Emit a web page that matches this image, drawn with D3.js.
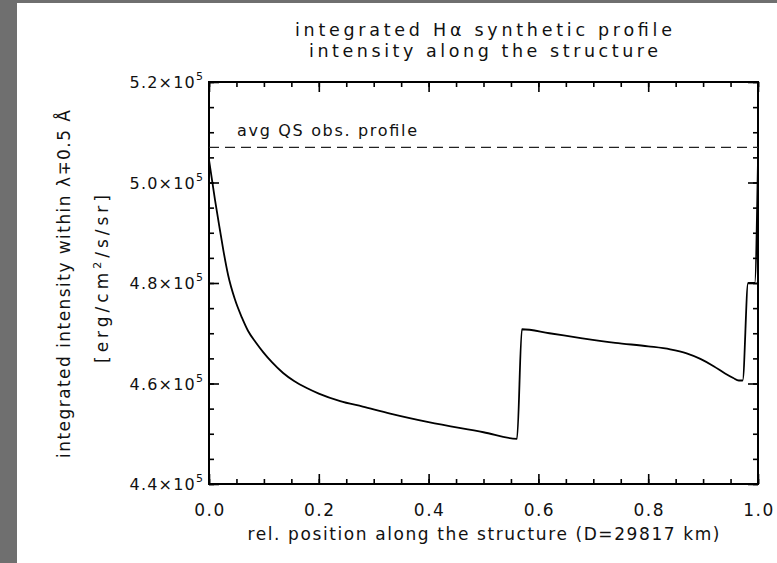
<!DOCTYPE html>
<html><head><meta charset="utf-8">
<script src="https://cdn.jsdelivr.net/npm/d3@7"></script>
<style>
body{margin:0;background:#fff;}
svg{display:block;}
text{font-family:"DejaVu Sans",sans-serif;fill:#111;}
</style>
</head><body>
<svg id="chart" width="777" height="563"></svg>
<script>
// ---- data ----
const positions = [0, 0.011, 0.02, 0.026, 0.035, 0.047, 0.06, 0.071, 0.085, 0.099, 0.115, 0.135, 0.155, 0.178, 0.2, 0.239, 0.28, 0.33, 0.4, 0.5, 0.561,
  0.570, 0.62, 0.68, 0.74, 0.8, 0.84, 0.87, 0.895, 0.92, 0.94, 0.955, 0.965, 0.972, 0.982, 0.994, 1.0];
const intensities = [5.045, 4.965, 4.905, 4.866, 4.815, 4.768, 4.731, 4.705, 4.682, 4.662, 4.642, 4.621, 4.605, 4.591, 4.580, 4.565, 4.554, 4.540, 4.523, 4.503, 4.490,
  4.708, 4.700, 4.690, 4.681, 4.674, 4.668, 4.660, 4.649, 4.634, 4.620, 4.611, 4.606, 4.606, 4.80, 4.80, 5.045].map(v => v * 1e5);
const qsLevel = 5.07e5;
const qsLabel = "avg QS obs. profile";
const xTickValues = [0, 0.2, 0.4, 0.6, 0.8, 1.0];
const xTickLabels = ["0.0", "0.2", "0.4", "0.6", "0.8", "1.0"];
const yTickValues = [4.4e5, 4.6e5, 4.8e5, 5.0e5, 5.2e5];
const yTickMantissas = ["4.4", "4.6", "4.8", "5.0", "5.2"];
const yTickExponent = "5";
const titleLines = ["integrated H\u03b1 synthetic profile", "intensity along the structure"];
const xTitle = "rel. position along the structure (D=29817 km)";
const yTitle = "integrated intensity within \u03bb\u22130.5 \u00c5";

// ---- layout ----
const W = 777, H = 563;
const L = 209, R = 758, T = 82, B = 484;
const svg = d3.select("#chart");

svg.append("rect").attr("x",0).attr("y",0).attr("width",W).attr("height",H).attr("fill","#fff");
svg.append("rect").attr("x",0).attr("y",0).attr("width",17).attr("height",H).attr("fill","#6f6f6f");
svg.append("rect").attr("x",0).attr("y",0).attr("width",W).attr("height",3).attr("fill","#6f6f6f");

const x = d3.scaleLinear().domain([0, 1]).range([L, R]);
const y = d3.scaleLinear().domain([4.4e5, 5.2e5]).range([B, T]);

const xMinor = d3.range(0, 1.0001, 0.05);
const yMinor = d3.range(4.4e5, 5.2e5 + 1, 0.05e5);

function axisG(axisFn, tr) {
  const g = svg.append("g").attr("transform", tr).call(axisFn);
  g.selectAll("path.domain").remove();
  g.selectAll("line").attr("stroke", "#000").attr("stroke-width", 1.6);
  g.selectAll("text").remove();
  return g;
}
axisG(d3.axisBottom(x).tickValues(xMinor).tickSize(-5), `translate(0,${B})`);
axisG(d3.axisTop(x).tickValues(xMinor).tickSize(-5), `translate(0,${T})`);
axisG(d3.axisLeft(y).tickValues(yMinor).tickSize(-5), `translate(${L},0)`);
axisG(d3.axisRight(y).tickValues(yMinor).tickSize(-5), `translate(${R},0)`);
axisG(d3.axisBottom(x).tickValues(xTickValues).tickSize(-10), `translate(0,${B})`);
axisG(d3.axisTop(x).tickValues(xTickValues).tickSize(-10), `translate(0,${T})`);
axisG(d3.axisLeft(y).tickValues(yTickValues).tickSize(-10), `translate(${L},0)`);
axisG(d3.axisRight(y).tickValues(yTickValues).tickSize(-10), `translate(${R},0)`);

svg.append("rect").attr("x", L).attr("y", T).attr("width", R - L).attr("height", B - T)
  .attr("fill", "none").attr("stroke", "#000").attr("stroke-width", 2);

// x tick labels
svg.append("g").selectAll("text").data(xTickValues).join("text")
  .attr("x", d => x(d) + 1).attr("y", B + 32).attr("text-anchor", "middle")
  .attr("font-size", 17).attr("letter-spacing", 1.5).text((d, i) => xTickLabels[i]);

// y tick labels
const yl = svg.append("g").selectAll("text").data(yTickValues).join("text")
  .attr("x", L - 6).attr("y", d => y(d) + 6).attr("text-anchor", "end").attr("font-size", 16).attr("letter-spacing", 1.2);
yl.append("tspan").text((d, i) => yTickMantissas[i] + "\u00d710");
yl.append("tspan").attr("dy", -8).attr("font-size", 11).attr("letter-spacing", 0).text(yTickExponent);

// QS line
svg.append("line").attr("x1", L).attr("x2", R).attr("y1", y(qsLevel)).attr("y2", y(qsLevel))
  .attr("stroke", "#222").attr("stroke-width", 1.3).attr("stroke-dasharray", "10,6");
svg.append("text").attr("x", 237).attr("y", y(qsLevel) - 11).attr("font-size", 16)
  .attr("textLength", 180).attr("lengthAdjust", "spacing").text(qsLabel);

// curve
const data = positions.map((p, i) => [p, intensities[i]]);
svg.append("path").datum(data)
  .attr("d", d3.line().curve(d3.curveMonotoneX).x(d => x(d[0])).y(d => y(d[1])))
  .attr("fill", "none").attr("stroke", "#000").attr("stroke-width", 1.8).attr("stroke-linejoin", "round");

// titles
const cx = (L + R) / 2;
svg.append("text").attr("x", cx).attr("y", 36).attr("text-anchor", "middle").attr("font-size", 17.5)
  .attr("textLength", 377).attr("lengthAdjust", "spacing").text(titleLines[0]);
svg.append("text").attr("x", cx).attr("y", 57).attr("text-anchor", "middle").attr("font-size", 17.5)
  .attr("textLength", 349).attr("lengthAdjust", "spacing").text(titleLines[1]);

svg.append("text").attr("x", cx).attr("y", B + 56).attr("text-anchor", "middle").attr("font-size", 17)
  .attr("textLength", 472).attr("lengthAdjust", "spacing").text(xTitle);

svg.append("text").attr("transform", `translate(70,284) rotate(-90)`).attr("text-anchor", "middle")
  .attr("font-size", 17).attr("textLength", 348).attr("lengthAdjust", "spacing").text(yTitle);
const y2 = svg.append("text").attr("transform", `translate(108,279) rotate(-90)`).attr("text-anchor", "middle")
  .attr("font-size", 17).attr("textLength", 168).attr("lengthAdjust", "spacing");
y2.append("tspan").text("[erg/cm");
y2.append("tspan").attr("dy", -7).attr("font-size", 11).text("2");
y2.append("tspan").attr("dy", 7).text("/s/sr]");
</script>
</body></html>
